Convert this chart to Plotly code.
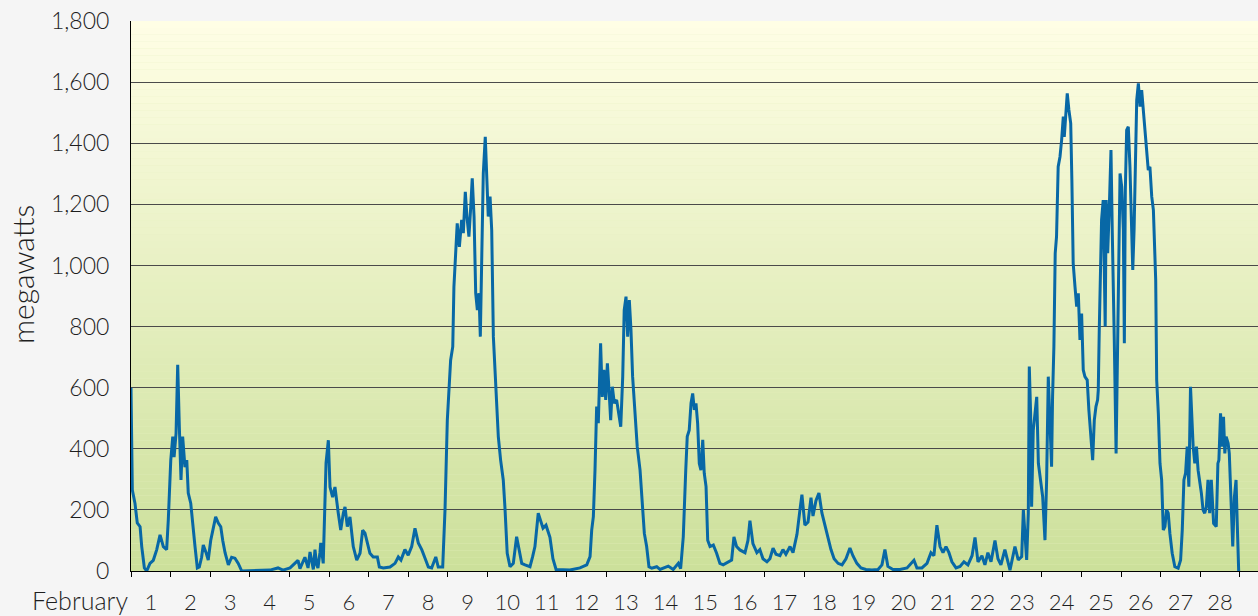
import plotly.graph_objects as go

# ---- data: hourly wind output (hours since Feb 1 00:00, megawatts) ----
wk1_hours = [0, 0.8, 2.4, 3.8, 5.5, 6.5, 8.1, 9.5, 11.5, 13.5, 15.6, 17.6, 19.6, 21.6, 22.6, 24.1, 25.3, 26.1, 27.3, 28.3,
             29.3, 30.3, 31.3, 32.7, 33.8, 34.7, 36.2, 37.4, 38.8, 40.2, 41.4, 42.8, 43.8, 45.5, 46.8, 48.3, 49.9, 51.3, 52.9, 54.4,
             55.6, 57, 59, 61, 63, 65, 67.1, 78.2, 84.2, 89.1, 92.1, 96.4, 101.2, 102.4, 105.4, 107.3, 108.5, 110.5, 111.5, 112.5, 113.3, 114.5, 115, 116.5, 118.2,
             119.6, 120.6, 122.2, 123.6, 125.6, 127.1, 128.7, 129.7, 131.1, 132.7, 134.7, 136.8, 138.8, 140.4, 141.8, 143.2, 144.8, 146.8, 149.3, 150.5,
             152.9, 157, 160, 162, 163.6, 166]
wk1_mw = [600, 265, 222, 157, 145, 80, 10, 0, 25, 35, 70, 118, 80, 70, 167, 363, 440, 373, 450, 675,
          470, 298, 440, 340, 363, 255, 222, 145, 80, 10, 13, 45, 85, 60, 36, 100, 145, 177, 157, 145,
          100, 60, 20, 45, 42, 25, 0, 2, 3, 10, 3, 10, 35, 8, 45, 10, 62, 5, 70, 20, 10, 60, 92, 25, 353,
          428, 275, 242, 275, 190, 134, 190, 210, 145, 177, 80, 36, 58, 134, 124, 92, 58, 46, 46, 13,
          10, 13, 25, 46, 36, 70]

wk2_hours = [168, 170.1, 172.1, 174.1, 176.2, 178.2, 180.2, 182.2, 184.7, 186.2, 188.9, 190.3, 191.7, 193.7, 195, 195.7, 196.8, 197.7, 199, 200.4,
             201.4, 202.6, 203.6, 204.8, 205.9, 206.8, 207.9, 208.9, 209.9, 210.9, 211.7, 212.7, 213.5, 214.7, 215.6, 216.5, 217.6, 218.6, 219.6, 221.2,
             222.6, 224, 225.6, 226.6, 228, 229.7, 231.7, 233.7, 235.3, 236.8, 238.8, 241.8, 243.4, 244.8, 246.8, 247.9, 249.7, 251.5, 253.9, 255.7,
             257.6, 266, 272.1, 276.2, 278.2, 279.2, 280.2, 281.2, 282.2, 283.2, 284.6, 285.6, 286.6, 287.7, 288.7, 289.7, 290.7, 291.7, 292.9, 294.3,
             295.7, 296.8, 298, 298.9, 300, 301, 302, 303, 304, 305.4, 306.8, 308.5, 309.9, 311.1, 312.5, 313.9, 315.6, 318.6, 320.6, 325.6,
             328.6, 331.7, 333.1, 334.7]
wk2_mw = [52, 80, 140, 92, 70, 42, 13, 10, 46, 13, 13, 200, 494, 690, 734, 930, 1050, 1138, 1061, 1149,
          1106, 1241, 1160, 1094, 1192, 1285, 1160, 909, 854, 909, 767, 1007, 1301, 1421, 1258, 1160, 1225, 1116, 767, 603,
          440, 363, 298, 210, 58, 14, 25, 112, 69, 25, 20, 14, 47, 80, 189, 170, 140, 150, 110, 40,
          5, 3, 10, 20, 47, 134, 178, 330, 538, 484, 745, 570, 658, 560, 680, 592, 494, 603, 549, 560,
          516, 472, 636, 854, 898, 767, 887, 789, 636, 516, 407, 330, 232, 123, 80, 14, 9, 14, 5, 16,
          5, 25, 8, 112]

wk3_hours = [336.2, 337.1, 338.3, 339.4, 340.4, 341.4, 342.4, 343.4, 344.4, 345.4, 346.5, 347.4, 348.5, 349.5, 350.9, 352.9, 354.9, 356.9, 358.9, 361.9,
             364, 365.4, 367, 369, 372.1, 373.9, 375.1, 376.9, 379.3, 381.1, 383, 385.4, 387.2, 389.1, 390.9, 393.3, 395.1, 396.9, 399.4, 401.2,
             403.6, 405.4, 406.6, 408.4, 410.3, 412.1, 413.3, 415.1, 416.9, 418.7, 420.6, 422.4, 424.2, 426.1, 428.5, 430.9, 433.3, 435.7, 437.5, 439.9,
             442.4, 445.4, 449, 452.7, 455.1, 456.9, 458.7, 461.8, 466, 470.3, 472.7, 474.5, 476.3, 479.3, 482.4, 484.8, 486.6, 488.4, 490.3, 492.1,
             493.9, 495.7, 497.5, 500, 502.4]
wk3_mw = [330, 440, 461, 549, 581, 527, 549, 483, 352, 330, 429, 320, 276, 101, 80, 85, 58, 25, 20, 31,
          36, 112, 80, 69, 60, 100, 165, 90, 60, 70, 40, 30, 40, 75, 55, 50, 70, 55, 80, 60,
          120, 200, 250, 150, 160, 240, 180, 230, 255, 190, 150, 110, 70, 40, 25, 20, 40, 75, 50, 25,
          10, 5, 3, 5, 20, 70, 15, 5, 5, 10, 25, 35, 10, 10, 25, 60, 50, 150, 80, 60,
          80, 60, 30, 10, 15]

wk4_hours = [504.8, 507.2, 509.7, 511.5, 513.3, 515.7, 517.5, 519.3, 521.2, 523.6, 525.4, 527.2, 529.6, 532.7, 535.7, 537.7, 539.8, 540.8, 541.8, 542.8,
             543.8, 544.4, 545.2, 545.8, 546.8, 547.8, 548.9, 549.9, 551.3, 552.5, 553.9, 554.9, 555.9, 556.9, 557.9, 558.5, 559.3, 560.1, 560.9, 561.9,
             563, 564, 565, 565.6, 566.6, 567.4, 568.4, 569.5, 570.2, 571, 572.1, 573.1, 574.1, 575.1, 576.1, 577.1, 578.1, 579.5, 580.5, 581.6,
             582.8, 583.8, 584.8, 585.8, 586.2, 586.8, 587.7, 588.2, 589.2, 589.8, 590.4, 591, 591.9, 592.9, 593.9, 594.7, 595.3, 595.9, 597, 597.8,
             598.6, 599.4, 600.4, 601.4, 602, 602.6, 603.4, 604.4, 605.4, 606.2, 607.1, 607.9, 608.7, 609.5, 610.5, 611.5, 612.5, 613.5, 614.5, 615.5,
             616.5, 617.5, 618.6, 619.6, 620.2, 621, 621.6, 622.6, 623.6, 624.6, 625.6, 626.6, 627.6, 628.6, 629.6, 631, 632.6, 634.6, 636.1, 637.1,
             638.1, 639.1, 640.1, 641.1, 642.1, 642.9, 643.7, 644.7, 645.7, 646.7, 647.7, 648.7, 649.7, 650.7, 651.7, 652.7, 653.7, 654.7, 656.1, 657.7,
             658.7, 659.3, 660.3, 661.3, 662.1, 662.9, 663.7, 664.9, 665.6, 666.7, 667.7, 668.7, 669.7, 670.3, 670.9, 671.3]
wk4_mw = [30, 20, 50, 110, 30, 50, 20, 60, 30, 100, 40, 20, 70, 3, 80, 36, 47, 200, 123, 36,
          189, 669, 516, 210, 461, 516, 570, 352, 298, 243, 101, 298, 636, 461, 341, 570, 734, 1040, 1094, 1323,
          1356, 1411, 1487, 1421, 1520, 1563, 1509, 1465, 1280, 1007, 930, 865, 909, 756, 843, 658, 636, 625, 527, 461,
          363, 494, 538, 560, 592, 789, 996, 1149, 1214, 952, 800, 1214, 1040, 1192, 1378, 1105, 952, 756, 385, 734,
          952, 1301, 1258, 1116, 745, 1247, 1443, 1454, 1323, 1116, 985, 1116, 1345, 1541, 1596, 1520, 1574, 1509, 1454, 1400,
          1312, 1323, 1225, 1181, 1040, 952, 625, 516, 352, 298, 134, 145, 200, 189, 123, 58, 14, 9, 36, 134,
          298, 320, 407, 276, 603, 494, 407, 352, 407, 330, 298, 254, 200, 189, 210, 298, 189, 298, 156, 145,
          352, 363, 516, 407, 505, 385, 440, 418, 385, 200, 80, 243, 298, 178, 80, 0]

day_labels = [str(d) for d in range(1, 29)]
month_label = "February"
y_title = "megawatts"
y_ticks = list(range(0, 1801, 200))

for h, v in [(wk1_hours, wk1_mw), (wk2_hours, wk2_mw), (wk3_hours, wk3_mw), (wk4_hours, wk4_mw)]:
    assert len(h) == len(v), (len(h), len(v))

hours = wk1_hours + wk2_hours + wk3_hours + wk4_hours
mw = wk1_mw + wk2_mw + wk3_mw + wk4_mw

FONT = "Lato, Liberation Sans, Arial, sans-serif"
TXT = "#1e1e1e"
W = 300

fig = go.Figure()
fig.add_trace(go.Scatter(x=hours, y=mw, mode="lines",
                         line=dict(color="#0868a6", width=3), hoverinfo="skip"))

# vertical gradient background of the plot area (light yellow -> green)
top = (255, 254, 229)
bot = (204, 224, 155)
n = 80
shapes = []
for i in range(n):
    t = (i + 0.5) / n
    c = tuple(round(bot[k] + (top[k] - bot[k]) * t) for k in range(3))
    shapes.append(dict(type="rect", xref="paper", yref="paper", x0=0, x1=1,
                       y0=i / n, y1=(i + 1) / n, layer="below",
                       fillcolor="rgb(%d,%d,%d)" % c, line=dict(width=0)))

fig.update_layout(
    width=1258, height=616,
    margin=dict(l=131, r=0, t=21, b=45, autoexpand=False),
    paper_bgcolor="#f5f5f5",
    plot_bgcolor="rgb(230,240,192)",
    showlegend=False,
    font=dict(family=FONT, size=22, color=TXT, weight=W),
    shapes=shapes,
    xaxis=dict(range=[0, 683], tickmode="array", automargin=False,
               tickvals=[12 + 24 * i for i in range(28)], ticktext=day_labels,
               ticks="", showgrid=False, zeroline=False,
               showline=True, linecolor="black", linewidth=1,
               ticklabelstandoff=12,
               tickfont=dict(family=FONT, size=22, color=TXT, weight=W),
               minor=dict(ticks="outside", ticklen=5, tickcolor="black",
                          tick0=0, dtick=24, showgrid=False)),
    yaxis=dict(range=[0, 1800], tickmode="array", tickvals=y_ticks, automargin=False,
               ticktext=["{:,}".format(v) for v in y_ticks],
               ticks="", showgrid=True, gridcolor="#4a4a4a", gridwidth=1,
               zeroline=False, showline=True, linecolor="black", linewidth=1,
               ticklabelstandoff=16,
               tickfont=dict(family=FONT, size=23, color=TXT, weight=W)),
    annotations=[
        dict(text=month_label, xref="paper", yref="paper", x=0, y=0,
             xanchor="right", yanchor="middle", xshift=-1, yshift=-29,
             showarrow=False, font=dict(family=FONT, size=25, color=TXT, weight=W)),
        dict(text=y_title, xref="paper", yref="paper", x=-109 / 1127, y=0.538,
             textangle=-90, xanchor="center", yanchor="middle",
             showarrow=False, font=dict(family=FONT, size=30, color=TXT, weight=W)),
    ],
)

fig.write_html("out.html", config={"displayModeBar": False},
               post_script="document.body.style.margin='0';document.body.style.background='#f5f5f5';")
